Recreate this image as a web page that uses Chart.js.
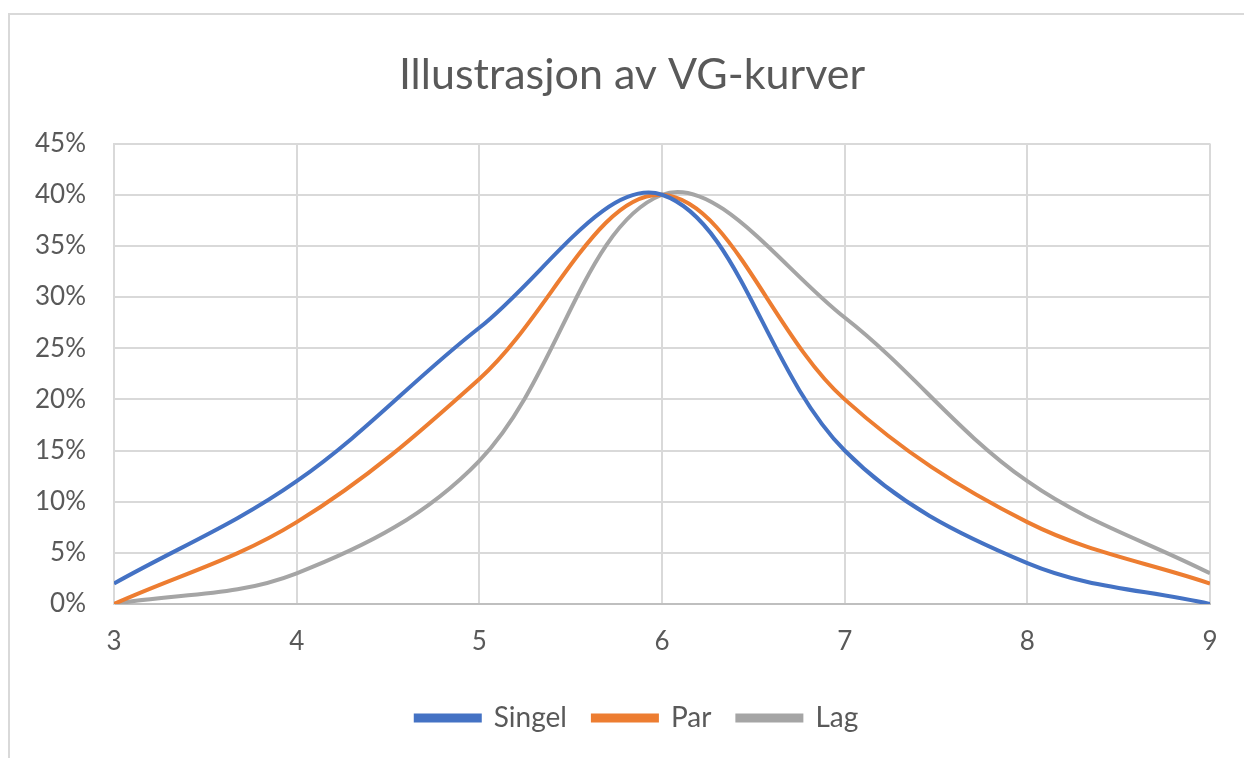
<!DOCTYPE html>
<html lang="no">
  <head>
    <meta charset="UTF-8" />
    <title>Illustrasjon av VG-kurver</title>
    <script src="https://cdn.jsdelivr.net/npm/chart.js"></script>
    <style>
      html, body { margin: 0; padding: 0; background: #fff; overflow: hidden; }
      .frame {
        position: absolute; left: 8px; top: 13px; width: 1300px; height: 800px;
        border: 2px solid #d9d9d9; box-sizing: border-box;
      }
      #vgChart { position: absolute; left: 0; top: 0; }
    </style>
  </head>
  <body>
    <div class="frame"></div>
    <canvas id="vgChart" width="1244" height="758"></canvas>

    <script>
      // x values (tick positions on the axis)
      const xValues = [3, 4, 5, 6, 7, 8, 9];

      // percentages
      const singel = [2, 12, 27, 40, 15, 4, 0];
      const par = [0, 8, 22, 40, 20, 8, 2];
      const lag = [0, 3, 14, 40, 28, 12, 3];

      const textColor = "#595959";
      const gridColor = "#d9d9d9";
      const fontFamily = "Lato, 'Open Sans', sans-serif";

      function toPoints(values) {
        return values.map((v, i) => ({ x: xValues[i], y: v }));
      }

      function makeSet(label, values, color) {
        return {
          label: label,
          data: toPoints(values),
          borderColor: color,
          backgroundColor: color,
          borderWidth: 4,
          pointRadius: 0,
          fill: false,
          tension: 0.36,
        };
      }

      // centre title and legend on the frame rather than on the padded box
      const recentre = {
        id: "recentre",
        afterLayout(chart) {
          if (chart.titleBlock) {
            chart.titleBlock.left = 20;
            chart.titleBlock.right = 1244;
          }
          if (chart.legend) {
            chart.legend.left = 30;
            chart.legend.right = 1244;
          }
        },
      };

      const ctx = document.getElementById("vgChart").getContext("2d");
      new Chart(ctx, {
        type: "line",
        data: {
          datasets: [
            makeSet("Singel", singel, "#4472c4"),
            makeSet("Par", par, "#ed7d31"),
            makeSet("Lag", lag, "#a5a5a5"),
          ],
        },
        options: {
          responsive: false,
          animation: false,
          layout: { padding: { left: 0, right: 34, top: 0, bottom: 16 } },
          plugins: {
            title: {
              display: true,
              text: "Illustrasjon av VG-kurver",
              color: textColor,
              font: { family: fontFamily, size: 43, weight: "normal" },
              padding: { top: 49, bottom: 43 },
            },
            legend: {
              position: "bottom",
              labels: {
                color: textColor,
                font: { family: fontFamily, size: 28 },
                boxWidth: 64,
                boxHeight: 5,
                padding: 26,
              },
            },
            tooltip: { enabled: false },
          },
          scales: {
            x: {
              type: "linear",
              min: 3,
              max: 9,
              afterFit: (s) => { s.height = 74; },
              ticks: {
                stepSize: 1,
                color: textColor,
                padding: 22,
                font: { family: fontFamily, size: 26 },
              },
              grid: { color: gridColor, lineWidth: 2, drawTicks: false },
              border: { color: "#bfbfbf", width: 2 },
            },
            y: {
              min: 0,
              max: 45,
              afterFit: (s) => { s.width = 114; },
              ticks: {
                stepSize: 5,
                color: textColor,
                padding: 28,
                font: { family: fontFamily, size: 26 },
                callback: (v) => v + "%",
              },
              grid: { color: gridColor, lineWidth: 2, drawTicks: false },
              border: { color: gridColor, width: 2 },
            },
          },
        },
        plugins: [recentre],
      });
    </script>
  </body>
</html>
